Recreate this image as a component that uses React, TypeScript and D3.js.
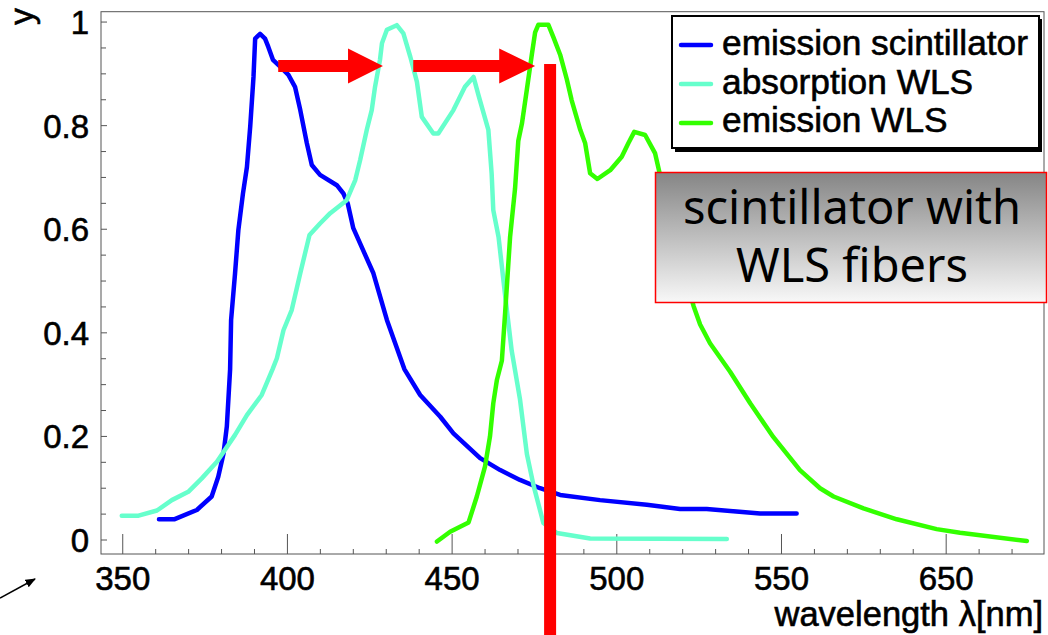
import React from "react";
import * as d3 from "d3";

const W = 1048;
const H = 635;

// emission scintillator
const scintLambda = [361, 365.6, 372.5, 377, 379, 380.6, 381.6, 382.6, 382.9, 384.1, 385.1, 386.5, 387.7, 388.7, 389.7, 390.2, 391.7, 393.2, 394.2, 395.6, 397.8, 400.3, 402.3, 403.9, 405.9, 407.4, 409.9, 415, 417, 418.3, 420, 426.1, 430.2, 435.5, 440.3, 446.4, 450.4, 458.5, 464.6, 470.6, 476.7, 482.8, 494.9, 509.1, 519.2, 527.3, 543.5, 554.6];
const scintValue = [0.04, 0.04, 0.058, 0.084, 0.122, 0.167, 0.219, 0.33, 0.425, 0.515, 0.598, 0.669, 0.72, 0.798, 0.894, 0.968, 0.977, 0.968, 0.952, 0.927, 0.914, 0.898, 0.875, 0.83, 0.766, 0.724, 0.705, 0.685, 0.669, 0.65, 0.602, 0.515, 0.425, 0.33, 0.28, 0.238, 0.206, 0.158, 0.135, 0.116, 0.1, 0.087, 0.077, 0.068, 0.06, 0.06, 0.051, 0.051];

// absorption WLS
const absLambda = [349.7, 354.8, 360.4, 364.9, 369.9, 374, 378.6, 384.1, 387.7, 392.2, 395.5, 396.8, 398.8, 401.3, 403.9, 406.7, 409.9, 413, 418, 420.6, 422.1, 424.1, 425.6, 426.6, 428.1, 428.7, 430.2, 433.2, 435.2, 437.3, 439.3, 440.8, 444.3, 445.8, 450.4, 453.9, 456.5, 458, 461, 462, 462.5, 464.1, 466.1, 468.1, 470.6, 472.7, 474.7, 477.7, 481.8, 491.9, 533.4];
const absValue = [0.047, 0.047, 0.057, 0.077, 0.093, 0.119, 0.151, 0.203, 0.241, 0.28, 0.33, 0.351, 0.405, 0.444, 0.515, 0.589, 0.611, 0.631, 0.656, 0.695, 0.734, 0.792, 0.83, 0.875, 0.927, 0.959, 0.985, 0.994, 0.978, 0.933, 0.885, 0.817, 0.785, 0.785, 0.83, 0.875, 0.894, 0.859, 0.792, 0.708, 0.637, 0.585, 0.472, 0.365, 0.272, 0.166, 0.106, 0.033, 0.0135, 0.003, 0.002];

// emission WLS
const wlsLambda = [445.4, 449.4, 455, 457.5, 460, 461.5, 462.5, 463.6, 465.1, 466.1, 467.6, 469.1, 470.1, 471.2, 472.7, 474.2, 475.2, 476.2, 479.2, 480.8, 482.8, 484.8, 486.3, 488.9, 490.4, 491.9, 494.1, 498, 501.5, 503.5, 505.3, 508.6, 511.6, 512.9, 515.5, 519, 523.3, 525.3, 528.3, 534.4, 540.5, 547.5, 555.6, 561.7, 565.8, 574.9, 585, 597.1, 604.2, 624.5];
const wlsValue = [-0.003, 0.016, 0.034, 0.084, 0.142, 0.2, 0.264, 0.309, 0.346, 0.439, 0.585, 0.678, 0.771, 0.804, 0.87, 0.937, 0.98, 0.995, 0.995, 0.97, 0.937, 0.89, 0.849, 0.792, 0.766, 0.708, 0.697, 0.714, 0.74, 0.766, 0.788, 0.782, 0.747, 0.711, 0.64, 0.55, 0.452, 0.416, 0.38, 0.325, 0.264, 0.199, 0.135, 0.1, 0.084, 0.061, 0.04, 0.021, 0.014, -0.002];

const xTickValues = [350, 400, 450, 500, 550, 600];
const xTickLabels = ["350", "400", "450", "500", "550", "650"];
const yTickValues = [0, 0.2, 0.4, 0.6, 0.8, 1];
const yTickLabels = ["0", "0.2", "0.4", "0.6", "0.8", "1"];
const legendLabels = ["emission scintillator", "absorption WLS", "emission WLS"];
const boxLines = ["scintillator with", "WLS fibers"];

// annotation arrows (in data units): start, head base, tip, level
const arrowStarts = [397.2, 438.2];
const arrowHeadBases = [418.4, 464.3];
const arrowTips = [429.0, 475.2];
const arrowLevel = 0.915;
const markerLambda = 479.75;
const markerTop = 0.919;

const colors = ["#0000ff", "#66ffcc", "#33ff00"];

const series = [
  { lam: scintLambda, val: scintValue },
  { lam: absLambda, val: absValue },
  { lam: wlsLambda, val: wlsValue },
];

export default function App() {
  const left = 101, right = 1044, top = 11.7, bottom = 554;
  const x = d3.scaleLinear().domain([343.4, 629.7]).range([left, right]);
  const y = d3.scaleLinear().domain([-0.027, 1.02]).range([bottom, top]);
  const line = d3
    .line<[number, number]>()
    .x((d) => x(d[0]))
    .y((d) => y(d[1]));

  const xMinor = d3.range(360, 630, 10).filter((v) => v % 50 !== 0);
  const yMinor = d3.range(0, 21).map((i) => i * 0.05).filter((v, i) => i % 4 !== 0);
  const axisColor = "#555";
  const font = "'Liberation Sans', Arial, sans-serif";
  const heavy = { stroke: "#000", strokeWidth: 0.6 };

  const arrowPath = (i: number) => {
    const yc = y(arrowLevel);
    const x0 = x(arrowStarts[i]);
    const xb = x(arrowHeadBases[i]);
    const xt = x(arrowTips[i]);
    const t = 6, h = 17.5;
    return `M${x0},${yc - t}L${xb},${yc - t}L${xb},${yc - h}L${xt},${yc}L${xb},${yc + h}L${xb},${yc + t}L${x0},${yc + t}Z`;
  };

  return (
    <svg
      width={W}
      height={H}
      style={{ position: "absolute", left: 0, top: 0, background: "#fff" }}
      fontFamily={font}
    >
      <defs>
        <linearGradient id="boxGrad" x1="0" y1="0" x2="0" y2="1">
          <stop offset="0" stopColor="#858585" />
          <stop offset="1" stopColor="#f8f8f8" />
        </linearGradient>
        <clipPath id="plotClip">
          <rect x={left} y={top} width={right - left} height={bottom - top} />
        </clipPath>
        <marker id="ah" viewBox="0 0 10 10" refX="9" refY="5" markerWidth="7" markerHeight="7" orient="auto">
          <path d="M0,1L10,5L0,9Z" fill="#000" />
        </marker>
      </defs>
      <rect x={0} y={0} width={W} height={H} fill="#fff" />

      {/* frame */}
      <rect x={left} y={top} width={right - left} height={bottom - top} fill="none" stroke={axisColor} strokeWidth={1} />

      {/* x ticks */}
      {xTickValues.map((v, i) => (
        <g key={"xt" + i}>
          <line x1={x(v)} x2={x(v)} y1={bottom} y2={bottom - 20} stroke={axisColor} />
          <text x={x(v)} y={590} fontSize={33} textAnchor="middle" fill="#000" {...heavy}>
            {xTickLabels[i]}
          </text>
        </g>
      ))}
      {xMinor.map((v) => (
        <line key={"xm" + v} x1={x(v)} x2={x(v)} y1={bottom} y2={bottom - 5} stroke={axisColor} />
      ))}

      {/* y ticks */}
      {yTickValues.map((v, i) => (
        <g key={"yt" + i}>
          <line x1={left} x2={left + 6} y1={y(v)} y2={y(v)} stroke={axisColor} />
          <text x={89} y={y(v) + 12} fontSize={33} textAnchor="end" fill="#000" {...heavy}>
            {yTickLabels[i]}
          </text>
        </g>
      ))}
      {yMinor.map((v) => (
        <line key={"ym" + v} x1={left} x2={left + 5} y1={y(v)} y2={y(v)} stroke={axisColor} />
      ))}

      {/* axis titles */}
      <text transform="translate(33,8) rotate(-90)" fontSize={34} textAnchor="end" fill="#000" {...heavy}>
        y
      </text>
      <text x={1043} y={626} fontSize={34.5} textAnchor="end" fill="#000" {...heavy}>
        wavelength λ[nm]
      </text>

      {/* curves */}
      <g clipPath="url(#plotClip)">
        {series.map((s, k) => (
          <path
            key={"s" + k}
            d={line(s.lam.map((l, i) => [l, s.val[i]] as [number, number])) || ""}
            fill="none"
            stroke={colors[k]}
            strokeWidth={4.5}
            strokeLinejoin="round"
            strokeLinecap="round"
          />
        ))}
      </g>

      {/* red annotations */}
      {arrowStarts.map((_, i) => (
        <path key={"ar" + i} d={arrowPath(i)} fill="#ff0000" />
      ))}
      <rect x={x(markerLambda) - 6} y={y(markerTop)} width={12} height={H - y(markerTop)} fill="#ff0000" />

      {/* legend */}
      <rect x={675} y={19} width={367} height={133} fill="#000" />
      <rect x={672} y={16} width={367} height={132} fill="#fff" stroke="#000" strokeWidth={2} />
      {legendLabels.map((lab, i) => (
        <g key={"lg" + i}>
          <line x1={681} x2={711} y1={45 + i * 39} y2={45 + i * 39} stroke={colors[i]} strokeWidth={4.5} strokeLinecap="round" />
          <text x={722} y={55 + i * 38.5} fontSize={35.3} fill="#000" {...heavy}>
            {lab}
          </text>
        </g>
      ))}

      {/* text box */}
      <rect x={655.5} y={172.5} width={391} height={130} fill="url(#boxGrad)" stroke="#ff0000" strokeWidth={1.5} />
      <text x={852} y={224} fontSize={47} textAnchor="middle" fontFamily="'Noto Sans', 'Open Sans', sans-serif" fill="#000">
        {boxLines.map((t, i) => (
          <tspan key={"bx" + i} x={852} dy={i === 0 ? 0 : 57.5}>
            {t}
          </tspan>
        ))}
      </text>

      {/* corner arrow */}
      <line x1={0} y1={598} x2={35} y2={579} stroke="#000" strokeWidth={1.5} markerEnd="url(#ah)" />
    </svg>
  );
}
